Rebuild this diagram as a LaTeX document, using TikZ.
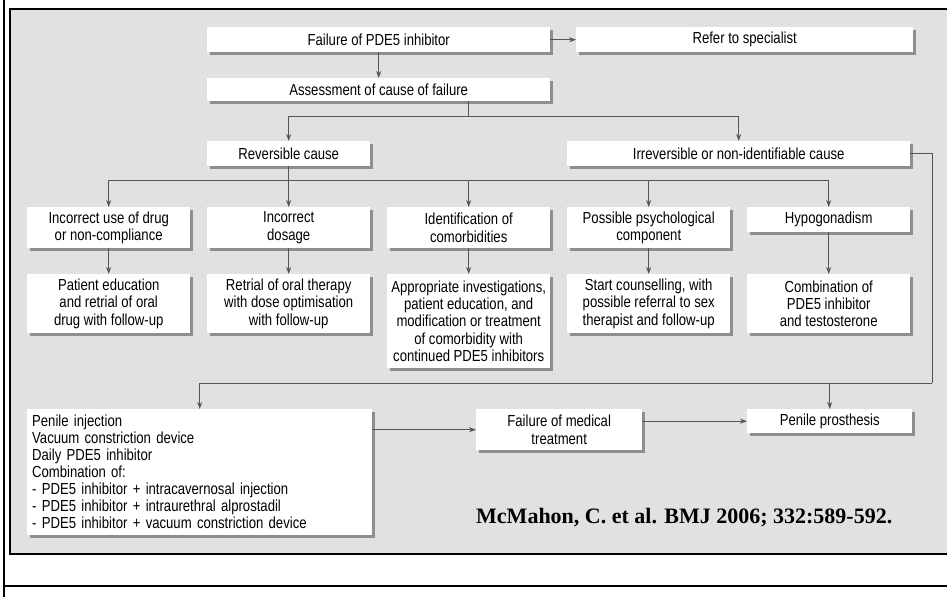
\documentclass[tikz,border=0pt]{standalone}
\usepackage{fontspec}
\usepackage{xcolor}
\usepackage{tikz}
\usetikzlibrary{arrows.meta, shadows}
\newfontfamily\boxfont[FakeStretch=0.82]{Liberation Sans}
\newfontfamily\citefont{Liberation Serif}
\definecolor{panelgray}{HTML}{E1E1E1}
\definecolor{shadowgray}{HTML}{8E8E8E}
\definecolor{linegray}{HTML}{555555}
\tikzstyle{box}   = [anchor=north west, fill=white, inner sep=0pt, align=center,
                     drop shadow={shadow xshift=3pt, shadow yshift=-3pt, fill=shadowgray, opacity=1},
                     font=\boxfont\fontsize{16}{17.3}\selectfont]
\tikzstyle{arrow} = [linegray, line width=0.9pt, -{Stealth[length=7pt,width=5pt]}]
\tikzstyle{link}  = [linegray, line width=0.9pt]

\begin{document}
\begin{tikzpicture}[x=1pt, y=-1pt]
  \useasboundingbox (0,0) rectangle (947,597);

  % --- Frame ---
  \fill[panelgray] (10,9) rectangle (947,554);
  \draw[line width=1.4pt] (947,9) -- (10,9) -- (10,554) -- (947,554);
  \draw[line width=2pt] (4,0) -- (4,597);
  \draw[line width=1.4pt] (4,586) -- (947,586);

  % --- Top ---
  \node[box, minimum width=343pt, minimum height=25pt] (fail)   at (207,27)  {Failure of PDE5 inhibitor};
  \node[box, minimum width=337pt, minimum height=25pt] (refer)  at (576,27)  {Refer to specialist};
  \node[box, minimum width=343pt, minimum height=23pt] (assess) at (207,78)  {Assessment of cause of failure};
  \node[box, minimum width=163pt, minimum height=25pt] (rev)    at (207,141) {Reversible cause};
  \node[box, minimum width=343pt, minimum height=25pt] (irrev)  at (567,141) {Irreversible or non-identifiable cause};

  % --- Causes ---
  \node[box, minimum width=163pt, minimum height=41pt] (usedrug) at (27,207)  {Incorrect use of drug\\or non-compliance};
  \node[box, minimum width=163pt, minimum height=41pt] (dosage)  at (207,207) {Incorrect\\dosage};
  \node[box, minimum width=163pt, minimum height=41pt] (comorb)  at (387,207) {Identification of\\comorbidities};
  \node[box, minimum width=163pt, minimum height=41pt] (psych)   at (567,207) {Possible psychological\\component};
  \node[box, minimum width=163pt, minimum height=25pt] (hypo)    at (747,207) {Hypogonadism};

  % --- Management ---
  \node[box, minimum width=163pt, minimum height=59pt] (educ)    at (27,274)  {Patient education\\and retrial of oral\\drug with follow-up};
  \node[box, minimum width=163pt, minimum height=59pt] (retrial) at (207,274) {Retrial of oral therapy\\with dose optimisation\\with follow-up};
  \node[box, minimum width=163pt, minimum height=94pt] (invest)  at (387,274) {Appropriate investigations,\\patient education, and\\modification or treatment\\of comorbidity with\\continued PDE5 inhibitors};
  \node[box, minimum width=163pt, minimum height=59pt] (counsel) at (567,274) {Start counselling, with\\possible referral to sex\\therapist and follow-up};
  \node[box, minimum width=163pt, minimum height=59pt] (combo)   at (747,274) {Combination of\\PDE5 inhibitor\\and testosterone};

  % --- Second line ---
  \node[box, align=left, text width=335pt, inner xsep=5pt, inner ysep=2pt,
        minimum height=126pt, font=\boxfont\fontsize{16}{17}\selectfont] (options) at (27,409)
        {Penile injection\\Vacuum constriction device\\Daily PDE5 inhibitor\\Combination of:\\
         - PDE5 inhibitor + intracavernosal injection\\- PDE5 inhibitor + intraurethral alprostadil\\
         - PDE5 inhibitor + vacuum constriction device};
  \node[box, minimum width=166pt, minimum height=41pt] (medfail) at (476,409) {Failure of medical\\treatment};
  \node[box, minimum width=165pt, minimum height=24pt] (prosth)  at (747,409) {Penile prosthesis};

  \node[anchor=base west, inner sep=0pt, font=\citefont\bfseries\fontsize{22}{24}\selectfont]
        (cite) at (476,523) {McMahon, C. et al. BMJ 2006; 332:589-592.};

  % Connections
  \draw[arrow] (fail) -- (refer);
  \draw[arrow] (fail) -- (assess);

  \coordinate (split) at (468,116);
  \draw[link] (assess.south -| split) -- (split);
  \draw[arrow] (split) -| (rev);
  \draw[arrow] (split) -| (irrev);

  \draw[link] (rev.south) -- ++(0,14) coordinate (revbus);
  \foreach \x in {usedrug,dosage,comorb,psych,hypo} \draw[arrow] (revbus) -| (\x);

  \draw[arrow] (usedrug) -- (educ);
  \draw[arrow] (dosage)  -- (retrial);
  \draw[arrow] (comorb)  -- (invest);
  \draw[arrow] (psych)   -- (counsel);
  \draw[arrow] (hypo)    -- (combo);

  \coordinate (rbend) at (932,383);
  \draw[link] (irrev.east) -| (rbend);
  \draw[arrow] (rbend) -| (options);
  \draw[arrow] (prosth.north |- rbend) -- (prosth);

  \draw[arrow] (options.east |- medfail) -- (medfail);
  \draw[arrow] (medfail.east |- prosth) -- (prosth);
\end{tikzpicture}
\end{document}
